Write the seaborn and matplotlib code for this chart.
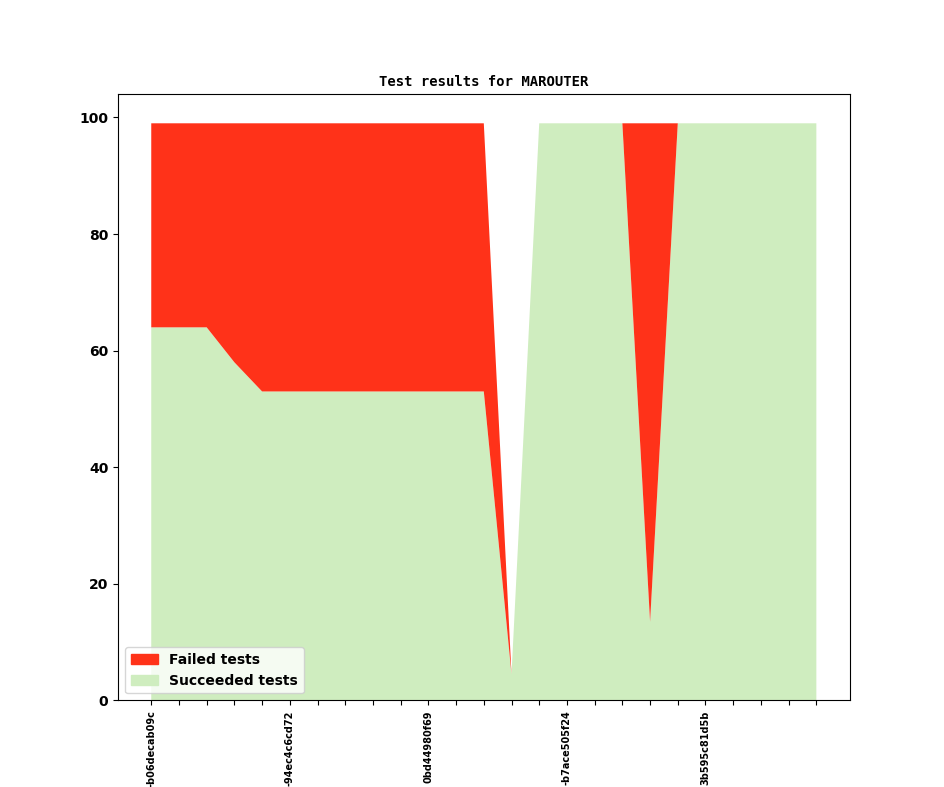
import numpy as np
import matplotlib
matplotlib.use("Agg")
import matplotlib.pyplot as plt
import matplotlib.patches as mpatches
import seaborn as sns

# commit labels (only every 5th one is shown on the axis)
commits = [
    "-b06decab09c", "", "", "", "",
    "-94ec4c6cd72", "", "", "", "",
    "0bd44980f69", "", "", "", "",
    "-b7ace505f24", "", "", "", "",
    "3b595c81d5b", "", "", "", "",
]

succeeded = [64, 64, 64, 58, 53, 53, 53, 53, 53, 53, 53, 53, 53, 4.5, 99,
             99, 99, 99, 13.5, 99, 99, 99, 99, 99, 99]
failed = [35, 35, 35, 41, 46, 46, 46, 46, 46, 46, 46, 46, 46, 0, 0,
          0, 0, 0, 85.5, 0, 0, 0, 0, 0, 0]

colors = sns.color_palette(["#cfedbf", "#ff3219"])


def plot_results(title):
    """
    Stacked area plot of succeeded / failed tests per commit.
    """
    fig, ax = plt.subplots(figsize=(9.44, 7.87), dpi=100)
    x = np.arange(len(succeeded))
    ax.stackplot(x, succeeded, failed, colors=colors)

    ax.set_xticks(x)
    ax.set_xticklabels(commits, rotation=90, fontsize=7, fontweight="bold")
    for lbl in ax.get_yticklabels():
        lbl.set_fontweight("bold")
    ax.tick_params(axis="y", labelsize=10)
    ax.set_title(title, fontsize=10, fontweight="bold", family="DejaVu Sans Mono")

    handles = [mpatches.Patch(color=colors[1], label="Failed tests"),
               mpatches.Patch(color=colors[0], label="Succeeded tests")]
    ax.legend(handles=handles, loc="lower left", prop={"weight": "bold", "size": 10})
    return fig


if __name__ == '__main__':
    fig = plot_results("Test results for MAROUTER")
    fig.savefig("out.png", dpi=100)
